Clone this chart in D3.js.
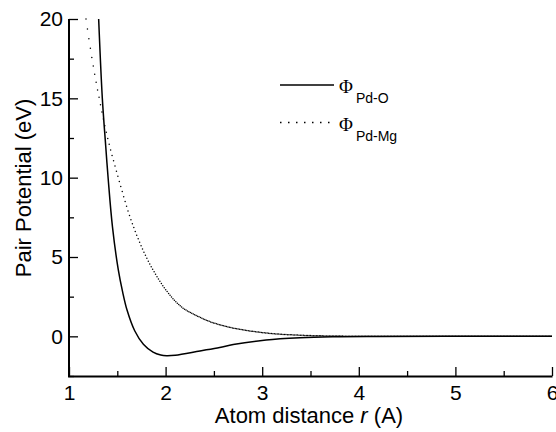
<!DOCTYPE html>
<html>
<head>
<meta charset="utf-8">
<script src="https://cdn.jsdelivr.net/npm/d3@7"></script>
<style>
  body { margin: 0; background: #fff; }
  svg { display: block; font-family: "Liberation Sans", Arial, sans-serif; }
  .axis line { stroke: #000; stroke-width: 1.3; }
  .axis text { font-size: 21px; fill: #000; font-family: "Liberation Sans", Arial, sans-serif; }
  .axis-title { font-size: 22px; fill: #000; }
</style>
</head>
<body>
<svg id="chart"></svg>
<script>
// Pd-O pair potential (solid)
const pdODist = [1.307, 1.345, 1.38, 1.406, 1.45, 1.51, 1.555, 1.60, 1.68, 1.77, 1.87, 1.95, 2.01, 2.10, 2.355, 2.56, 2.70, 3.04, 3.39, 3.73, 4.2, 5.0, 6.0];
const pdOVal  = [20, 15, 12, 9.9, 6.9, 4.2, 2.8, 1.67, 0.35, -0.5, -1.0, -1.18, -1.22, -1.19, -0.92, -0.7, -0.52, -0.23, -0.09, -0.03, -0.01, 0, 0];

// Pd-Mg pair potential (dotted)
const pdMgDist = [1.176, 1.238, 1.313, 1.40, 1.51, 1.65, 1.82, 2.0, 2.165, 2.355, 2.49, 2.70, 3.04, 3.39, 3.73, 4.2, 5.0, 6.0];
const pdMgVal  = [20, 17.5, 15, 12.5, 10, 7.2, 4.75, 2.95, 1.85, 1.2, 0.86, 0.52, 0.21, 0.07, 0.02, 0.005, 0, 0];

const xTicks = [1, 2, 3, 4, 5, 6];
const xMinorTicks = [1.5, 2.5, 3.5, 4.5, 5.5];
const yTicks = [0, 5, 10, 15, 20];
const yMinorTicks = [-2.5, 2.5, 7.5, 12.5, 17.5];

const width = 556, height = 432;
const margin = {top: 19, right: 4, bottom: 56, left: 69};
const innerW = width - margin.left - margin.right;
const innerH = height - margin.top - margin.bottom;

const svg = d3.select('#chart')
    .attr('width', width)
    .attr('height', height);

const chart = svg.append('g')
    .attr('transform', `translate(${margin.left},${margin.top})`);

const xScale = d3.scaleLinear().domain([1, 6]).range([0, innerW]);
const yScale = d3.scaleLinear().domain([-2.5, 20]).range([innerH, 0]);

// Ticks point inward
const xAxisG = chart.append('g')
    .attr('class', 'axis x-axis')
    .attr('transform', `translate(0,${innerH})`);
xAxisG.append('g')
    .call(d3.axisBottom(xScale).tickValues(xMinorTicks).tickSize(-5).tickFormat(''))
    .call(g => g.select('.domain').remove());
xAxisG.append('g')
    .call(d3.axisBottom(xScale).tickValues(xTicks).tickSize(-9).tickFormat(d3.format('d')))
    .call(g => g.select('.domain').remove())
    .call(g => g.selectAll('text').attr('dy', '0.71em').attr('y', 9));

const yAxisG = chart.append('g')
    .attr('class', 'axis y-axis');
yAxisG.append('g')
    .call(d3.axisLeft(yScale).tickValues(yMinorTicks).tickSize(-5).tickFormat(''))
    .call(g => g.select('.domain').remove());
yAxisG.append('g')
    .call(d3.axisLeft(yScale).tickValues(yTicks).tickSize(-9).tickFormat(d3.format('d')))
    .call(g => g.select('.domain').remove())
    .call(g => g.selectAll('text').attr('x', -6));

// Axis titles
const xTitle = svg.append('text')
    .attr('class', 'axis-title')
    .attr('x', 309)
    .attr('y', 423)
    .style('text-anchor', 'middle');
xTitle.append('tspan').text('Atom distance ');
xTitle.append('tspan').style('font-style', 'italic').text('r');
xTitle.append('tspan').text(' (A)');

svg.append('text')
    .attr('class', 'axis-title')
    .attr('transform', `translate(31,188) rotate(-90)`)
    .style('text-anchor', 'middle')
    .text('Pair Potential (eV)');

const line = d3.line()
    .x(d => xScale(d[0]))
    .y(d => yScale(d[1]))
    .curve(d3.curveCatmullRom.alpha(0.5));

// Solid curve
chart.append('path')
    .datum(d3.zip(pdODist, pdOVal))
    .attr('fill', 'none')
    .attr('stroke', '#000')
    .attr('stroke-width', 1.5)
    .attr('d', line);

// Dotted curve: dots at even steps in r, so steep parts look sparse and the tail looks solid
const guide = chart.append('path')
    .datum(d3.zip(pdMgDist, pdMgVal))
    .attr('fill', 'none')
    .attr('stroke', 'none')
    .attr('d', line);
const guideNode = guide.node();
const total = guideNode.getTotalLength();

function pointAtX(px) {
  let lo = 0, hi = total;
  for (let i = 0; i < 30; i++) {
    const mid = (lo + hi) / 2;
    if (guideNode.getPointAtLength(mid).x < px) lo = mid; else hi = mid;
  }
  return guideNode.getPointAtLength((lo + hi) / 2);
}

const dotR = d3.range(pdMgDist[0], 6.0001, 0.015);
chart.selectAll('.dot')
    .data(dotR)
  .join('circle')
    .attr('class', 'dot')
    .attr('r', 0.75)
    .attr('fill', '#000')
    .each(function(d) {
      const p = pointAtX(xScale(d));
      d3.select(this).attr('cx', p.x).attr('cy', p.y);
    });

// Axis lines (left and bottom only)
chart.append('rect')
    .attr('x', xScale(1) - 1)
    .attr('y', yScale(20))
    .attr('width', 2)
    .attr('height', yScale(-2.5) - yScale(20) + 1)
    .attr('fill', '#000');
chart.append('rect')
    .attr('x', xScale(1) - 1)
    .attr('y', yScale(-2.5) - 0.5)
    .attr('width', xScale(6) - xScale(1) + 1.5)
    .attr('height', 2)
    .attr('fill', '#000');

// Legend
const legend = svg.append('g');
legend.append('line')
    .attr('x1', 280).attr('x2', 334)
    .attr('y1', 85).attr('y2', 85)
    .attr('stroke', '#000').attr('stroke-width', 1.3);
legend.append('line')
    .attr('x1', 280).attr('x2', 332)
    .attr('y1', 122.5).attr('y2', 122.5)
    .attr('stroke', '#000').attr('stroke-width', 1.5)
    .attr('stroke-dasharray', '1.5,6.5');

const legendLabels = [
  {y: 93, sub: 'Pd-O'},
  {y: 131, sub: 'Pd-Mg'}
];
legendLabels.forEach(l => {
  const t = legend.append('text').attr('x', 339).attr('y', l.y).attr('fill', '#000');
  t.append('tspan')
      .style('font-family', '"Liberation Serif", serif')
      .style('font-size', '19px')
      .text('\u03A6');
  t.append('tspan')
      .attr('dx', 3)
      .attr('dy', 10)
      .style('font-size', '14px')
      .text(l.sub);
});
</script>
</body>
</html>
